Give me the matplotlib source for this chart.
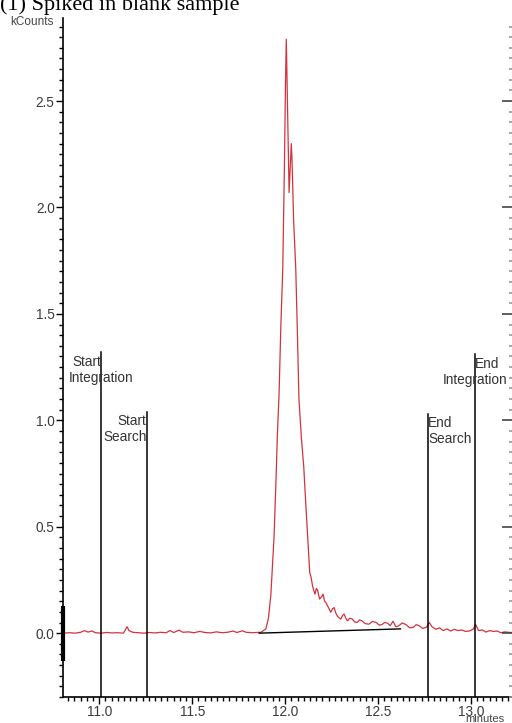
import numpy as np
import matplotlib
matplotlib.use("Agg")
import matplotlib.pyplot as plt
from matplotlib.ticker import MultipleLocator

# chromatogram trace (minutes, kCounts)
time_min = [
    10.81, 10.84, 10.87, 10.90, 10.92, 10.94, 10.96, 10.98, 11.01, 11.04,
    11.07, 11.10, 11.13, 11.15, 11.16, 11.18, 11.21, 11.24, 11.27, 11.30,
    11.33, 11.36, 11.38, 11.40, 11.43, 11.45, 11.48, 11.51, 11.54, 11.57,
    11.60, 11.63, 11.66, 11.69, 11.72, 11.74, 11.77, 11.79, 11.82, 11.85,
    11.87, 11.896, 11.91, 11.923, 11.94, 11.95, 11.958, 11.967, 11.977, 11.987,
    11.996, 12.002, 12.006, 12.010, 12.015, 12.021, 12.028, 12.033, 12.037, 12.045,
    12.057, 12.066, 12.074, 12.087, 12.10, 12.11, 12.12, 12.132, 12.14, 12.147,
    12.16, 12.168, 12.174, 12.185, 12.195, 12.204, 12.212, 12.218, 12.233, 12.245,
    12.255, 12.263, 12.272, 12.281, 12.29, 12.299, 12.308, 12.317, 12.326, 12.335,
    12.348, 12.361, 12.375, 12.388, 12.40, 12.413, 12.43, 12.45, 12.47, 12.49,
    12.505, 12.52, 12.535, 12.55, 12.565, 12.58, 12.595, 12.61, 12.63, 12.65,
    12.67, 12.69, 12.705, 12.72, 12.74, 12.76, 12.775, 12.79, 12.81, 12.83,
    12.85, 12.87, 12.89, 12.91, 12.93, 12.95, 12.97, 12.99, 13.01, 13.025,
    13.04, 13.06, 13.08, 13.10, 13.12, 13.14, 13.16, 13.18, 13.20, 13.22,
]
kcounts = [
    0.000, 0.002, 0.000, 0.004, 0.012, 0.005, 0.010, 0.002, 0.000, 0.003,
    0.001, 0.002, 0.000, 0.030, 0.012, 0.004, 0.002, 0.000, 0.003, 0.001,
    0.004, 0.002, 0.012, 0.003, 0.014, 0.004, 0.006, 0.002, 0.008, 0.003,
    0.001, 0.006, 0.002, 0.004, 0.010, 0.003, 0.011, 0.004, 0.002, 0.003,
    0.004, 0.020, 0.070, 0.180, 0.450, 0.700, 0.930, 1.120, 1.450, 1.710,
    2.200, 2.600, 2.790, 2.600, 2.350, 2.070, 2.200, 2.300, 2.220, 1.950,
    1.710, 1.400, 1.100, 0.920, 0.780, 0.620, 0.470, 0.285, 0.260, 0.222,
    0.183, 0.210, 0.203, 0.160, 0.170, 0.183, 0.150, 0.145, 0.120, 0.098,
    0.115, 0.120, 0.095, 0.080, 0.072, 0.066, 0.082, 0.090, 0.070, 0.058,
    0.070, 0.066, 0.052, 0.050, 0.062, 0.058, 0.045, 0.042, 0.055, 0.050,
    0.038, 0.040, 0.050, 0.047, 0.035, 0.056, 0.030, 0.034, 0.048, 0.040,
    0.025, 0.028, 0.040, 0.035, 0.022, 0.028, 0.050, 0.030, 0.018, 0.025,
    0.012, 0.020, 0.010, 0.018, 0.012, 0.015, 0.008, 0.010, 0.018, 0.040,
    0.012, 0.015, 0.005, 0.012, 0.008, 0.010, 0.002, 0.006, 0.004, 0.003,
]

# integration baseline drawn under the peak
baseline_x = [11.86, 12.62]
baseline_y = [0.0, 0.02]

# event markers
marker_times = [11.009, 11.255, 12.77, 13.02]
marker_tops = [1.32, 1.04, 1.03, 1.31]
marker_line1 = ["Start", "Start", "End", "End"]
marker_line2 = ["Integration", "Search", "Search", "Integration"]
# horizontal alignment of each label line against its marker
line1_align = ["right", "right", "left", "left"]
line2_align = ["center", "right", "left", "center"]

xticks = [11.0, 11.5, 12.0, 12.5, 13.0]
yticks = [0.0, 0.5, 1.0, 1.5, 2.0, 2.5]

XMIN, XMAX = 10.805, 13.22
YMIN, YMAX = -0.30, 2.89

sans = "Liberation Sans"
label_color = "#333333"

fig = plt.figure(figsize=(5.12, 7.23), dpi=100)
ax = fig.add_axes([63 / 512, 26 / 723, (512 - 63) / 512, (697 - 18) / 723])

ax.plot(time_min, kcounts, color="#d4323f", lw=0.9)
ax.plot(baseline_x, baseline_y, color="black", lw=1.0)

for i, t in enumerate(marker_times):
    ax.plot([t, t], [YMIN, marker_tops[i]], color="black", lw=1.1)
    ax.text(t, marker_tops[i] - 0.045, marker_line1[i], ha=line1_align[i],
            va="center", fontsize=9.8, family=sans, color=label_color)
    ax.text(t, marker_tops[i] - 0.12, marker_line2[i], ha=line2_align[i],
            va="center", fontsize=9.8, family=sans, color=label_color)

ax.set_xlim(XMIN, XMAX)
ax.set_ylim(YMIN, YMAX)

# thick segment on the left axis around zero
ax.plot([XMIN, XMIN], [-0.13, 0.127], color="black", lw=3, clip_on=False,
        solid_capstyle="butt")

ax.set_xticks(xticks)
ax.set_xticklabels([f"{v:.1f}" for v in xticks])
ax.set_yticks(yticks)
ax.set_yticklabels([f"{v:.1f}" for v in yticks])
ax.xaxis.set_minor_locator(MultipleLocator(1 / 30))
ax.yaxis.set_minor_locator(MultipleLocator(0.05))

for s in ["top", "right"]:
    ax.spines[s].set_visible(False)
ax.spines["left"].set_linewidth(1.2)
ax.spines["bottom"].set_linewidth(1.2)

ax.tick_params(axis="both", which="major", direction="out", length=5,
               width=1.0, labelsize=9.8, labelcolor="#3a3a3a", pad=1)
ax.tick_params(axis="both", which="minor", direction="out", length=3, width=1.0)
for lab in ax.get_xticklabels() + ax.get_yticklabels():
    lab.set_family(sans)

# right-hand tick column pointing inward
ax2 = ax.twinx()
ax2.set_ylim(YMIN, YMAX)
ax2.set_yticks(yticks)
ax2.yaxis.set_minor_locator(MultipleLocator(0.05))
ax2.tick_params(axis="y", which="major", direction="in", length=7, width=1.2,
                labelright=False, color="#444444")
ax2.tick_params(axis="y", which="minor", direction="in", length=2, width=1.2,
                color="#999999")
for s in ax2.spines.values():
    s.set_visible(False)

fig.text(10 / 512, 1 - 22 / 723, "kCounts", fontsize=8.5, family=sans,
         color="#444444", ha="left", va="center")
fig.text(485 / 512, 1 - 719 / 723, "minutes", fontsize=8, family=sans,
         color="#444444", ha="center", va="center")
fig.text(0.0, 1 - 10 / 723, "(1) Spiked in blank sample", fontsize=16,
         family="Liberation Serif", ha="left", va="baseline")

fig.savefig("out.png", dpi=100)
